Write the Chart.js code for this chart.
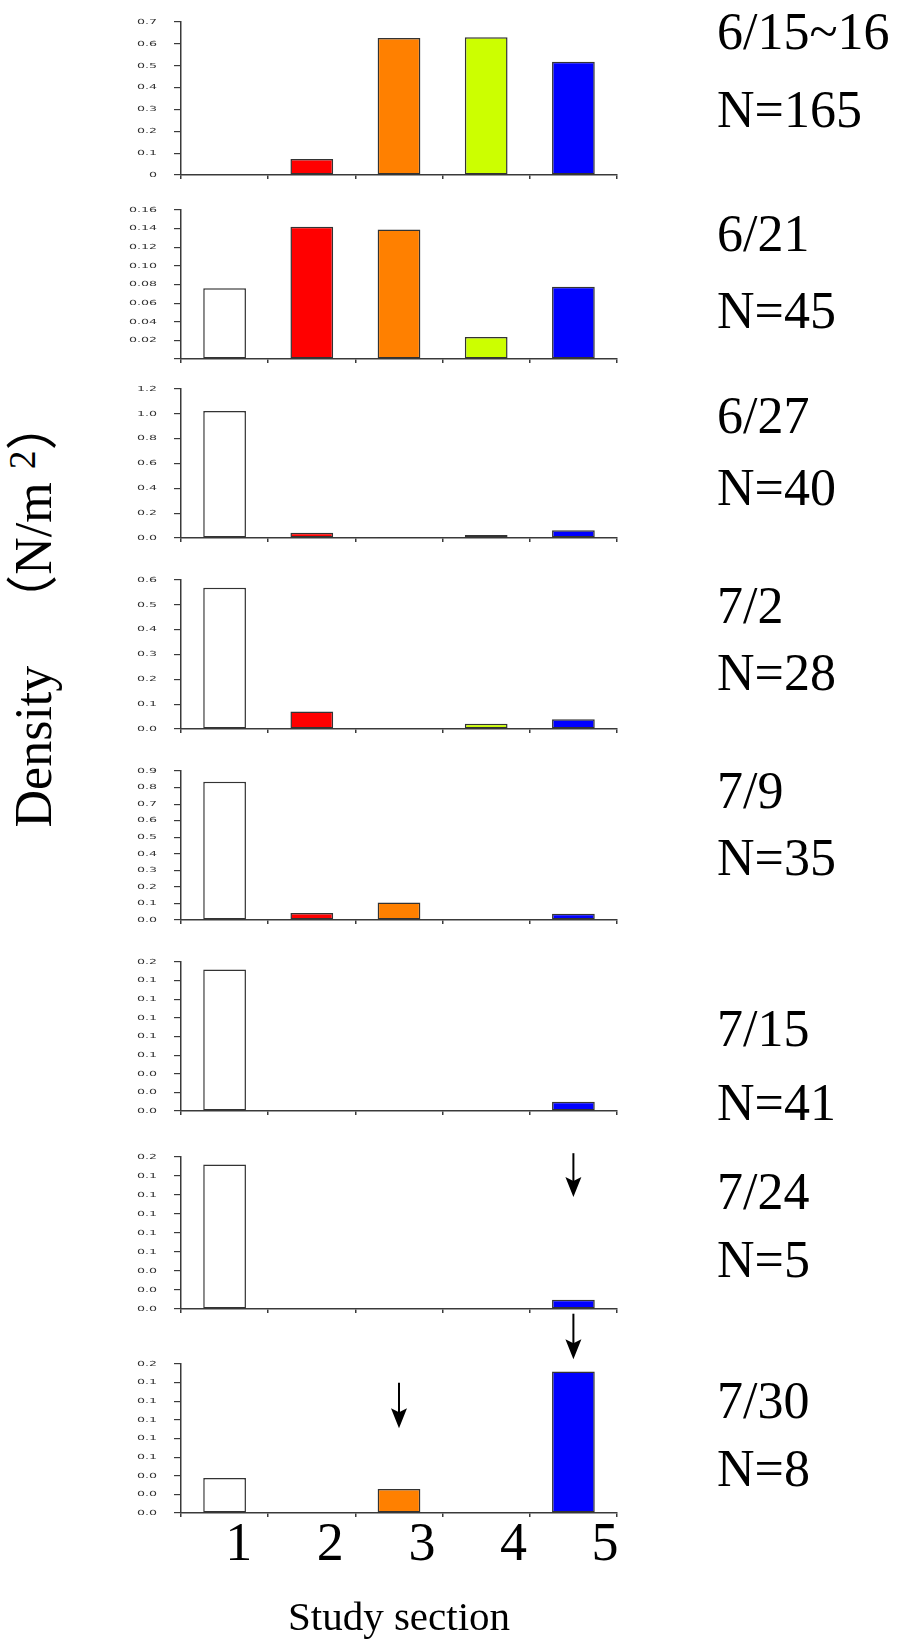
<!DOCTYPE html>
<html>
<head>
<meta charset="utf-8">
<script src="https://cdn.jsdelivr.net/npm/chart.js@4.4.1/dist/chart.umd.min.js"></script>
<style>
  body { margin: 0; background: #fff; }
  #page { position: relative; width: 901px; height: 1640px; overflow: hidden; background: #fff; }
  #page canvas { position: absolute; left: 100px; }
  .lbl {
    position: absolute; left: 717px;
    font-family: "Liberation Serif", "Times New Roman", serif;
    font-size: 52px; line-height: 52px; color: #000; white-space: nowrap;
  }
  #ytitle {
    position: absolute; left: 34px; top: 613px;
    transform: translate(-50%, -50%) rotate(-90deg);
    font-family: "Liberation Serif", "Noto Sans CJK SC", serif;
    font-size: 52px; line-height: 60px; color: #000; white-space: nowrap;
  }
  #ytitle sup { font-size: 0.72em; vertical-align: 0.42em; line-height: 0; }
</style>
</head>
<body>
<div id="page">
  <div id="ytitle">Density &nbsp;&nbsp;（N/m <sup>2</sup>）</div>
</div>
<script>
// --- data ---
const sections = ['1', '2', '3', '4', '5'];
const dates = ['6/15~16', '6/21', '6/27', '7/2', '7/9', '7/15', '7/24', '7/30'];
const counts = [165, 45, 40, 28, 35, 41, 5, 8];

const density0615 = [0, 0.073, 0.627, 0.630, 0.518];
const density0621 = [0.076, 0.142, 0.139, 0.0236, 0.0777];
const density0627 = [1.023, 0.043, 0.008, 0.025, 0.062];
const density0702 = [0.569, 0.070, 0, 0.0215, 0.039];
const density0709 = [0.835, 0.042, 0.105, 0, 0.038];
const density0715 = [0.152, 0, 0, 0, 0.010];
const density0724 = [0.152, 0, 0, 0, 0.0098];
const density0730 = [0.0377, 0, 0.0258, 0, 0.152];
const densities = [density0615, density0621, density0627, density0702,
                   density0709, density0715, density0724, density0730];

// y axis range and tick format per survey date
const yMax = [0.7, 0.16, 1.2, 0.6, 0.9, 0.16, 0.16, 0.16];
const yStep = [0.1, 0.02, 0.2, 0.1, 0.1, 0.02, 0.02, 0.02];
const tickDigits = [1, 2, 1, 1, 1, 1, 1, 1];
const zeroLabels = ['0', '', '0.0', '0.0', '0.0', '0.0', '0.0', '0.0'];

const sectionColors = ['#ffffff', '#ff0000', '#ff8000', '#ccff00', '#0000ff'];

// arrows: panel index, section index, start and tip in density units
const arrowPanels = [6, 7, 7];
const arrowSections = [4, 4, 2];
const arrowFrom = [0.164, 0.214, 0.140];
const arrowTo = [0.118, 0.165, 0.091];

// --- page layout (px) ---
const panelTop = [22, 210, 389, 580, 771, 962, 1157, 1364];
const panelZero = [175, 359, 538, 729, 920, 1111, 1309, 1513];
const dateBaseline = [49, 251, 433, 623, 808, 1046, 1209, 1418];
const countBaseline = [127, 328, 505, 690, 875, 1120, 1277, 1486];

const axisColor = '#3a3a3a';
const serif = '"Liberation Serif", "Times New Roman", serif';

// small y tick labels, drawn wide like the original plot software
const tickText = {
  id: 'tickText',
  afterDraw(chart) {
    const { ctx } = chart;
    const y = chart.scales.y;
    ctx.save();
    ctx.fillStyle = '#333';
    ctx.font = '7px "DejaVu Sans"';
    ctx.textAlign = 'right';
    ctx.textBaseline = 'middle';
    y.ticks.forEach((t, i) => {
      ctx.save();
      ctx.translate(y.right - 24, y.getPixelForTick(i));
      ctx.scale(1.8, 1);
      ctx.fillText(t.label, 0, 0);
      ctx.restore();
    });
    ctx.restore();
  }
};

const arrowMarks = {
  id: 'arrowMarks',
  afterDraw(chart, args, opts) {
    const { ctx } = chart;
    const { x, y } = chart.scales;
    arrowPanels.forEach((p, k) => {
      if (p !== opts.panel) return;
      const px = x.getPixelForValue(arrowSections[k]);
      const y0 = y.getPixelForValue(arrowFrom[k]);
      const y1 = y.getPixelForValue(arrowTo[k]);
      ctx.save();
      ctx.strokeStyle = '#000';
      ctx.fillStyle = '#000';
      ctx.lineWidth = 2;
      ctx.beginPath();
      ctx.moveTo(px, y0);
      ctx.lineTo(px, y1 - 12);
      ctx.stroke();
      ctx.beginPath();
      ctx.moveTo(px - 8, y1 - 20);
      ctx.lineTo(px, y1 - 16);
      ctx.lineTo(px + 8, y1 - 20);
      ctx.lineTo(px, y1);
      ctx.closePath();
      ctx.fill();
      ctx.restore();
    });
  }
};

const page = document.getElementById('page');

densities.forEach((values, i) => {
  const last = i === densities.length - 1;
  const padTop = last ? 56 : 8;
  const canvasTop = panelTop[i] - padTop;
  const canvasHeight = last ? 1640 - canvasTop : panelZero[i] - panelTop[i] + padTop + 6;

  const canvas = document.createElement('canvas');
  canvas.width = 530;
  canvas.height = canvasHeight;
  canvas.style.top = canvasTop + 'px';
  page.appendChild(canvas);

  const scales = {
    x: {
      type: 'category',
      offset: true,
      weight: 0,
      grid: { offset: true, drawOnChartArea: false, tickLength: 4, color: axisColor, lineWidth: 1.5 },
      border: { color: axisColor, width: 1.5 },
      ticks: { display: false },
      afterFit: s => { s.height = 6; }
    },
    y: {
      min: 0,
      max: yMax[i],
      grid: { drawOnChartArea: false, tickLength: 7, color: axisColor, lineWidth: 1.2 },
      border: { color: axisColor, width: 1.5 },
      ticks: {
        display: false,
        stepSize: yStep[i],
        autoSkip: false,
        callback: v => (Math.abs(v) < 1e-9 ? zeroLabels[i] : v.toFixed(tickDigits[i]))
      },
      afterFit: s => { s.width = 81; }
    }
  };

  if (last) {
    // section numbers and axis title under the bottom panel
    scales.sx = {
      type: 'linear',
      position: 'bottom',
      weight: 1,
      offset: false,
      bounds: 'data',
      min: 0.37,
      max: 5.13,
      grid: { display: false, drawTicks: false, offset: false },
      border: { display: false },
      afterBuildTicks: s => { s.ticks = sections.map((name, k) => ({ value: k + 1 })); },
      ticks: {
        autoSkip: false,
        color: '#000',
        padding: 0,
        font: { family: serif, size: 54, lineHeight: 1 },
        callback: v => sections[v - 1]
      },
      title: {
        display: true,
        text: 'Study section',
        color: '#000',
        padding: 0,
        font: { family: serif, size: 41, lineHeight: 1 }
      },
      afterFit: s => { s.height = 1640 - panelZero[i] - 6; }
    };
  }

  new Chart(canvas, {
    type: 'bar',
    data: {
      labels: sections,
      datasets: [{
        data: values,
        backgroundColor: sectionColors,
        borderColor: '#333',
        borderWidth: 1.5,
        borderSkipped: false,
        barPercentage: 0.49,
        categoryPercentage: 1
      }]
    },
    options: {
      responsive: false,
      animation: false,
      layout: { padding: { top: padTop, right: 13, left: 0, bottom: 0 } },
      plugins: {
        legend: { display: false },
        tooltip: { enabled: false },
        arrowMarks: { panel: i }
      },
      scales
    },
    plugins: [tickText, arrowMarks]
  });

  // date and sample size at the right of each panel
  const dateEl = document.createElement('div');
  dateEl.className = 'lbl';
  dateEl.style.top = (dateBaseline[i] - 43.5) + 'px';
  dateEl.textContent = dates[i];
  page.appendChild(dateEl);

  const nEl = document.createElement('div');
  nEl.className = 'lbl';
  nEl.style.top = (countBaseline[i] - 43.5) + 'px';
  nEl.textContent = 'N=' + counts[i];
  page.appendChild(nEl);
});
</script>
</body>
</html>
